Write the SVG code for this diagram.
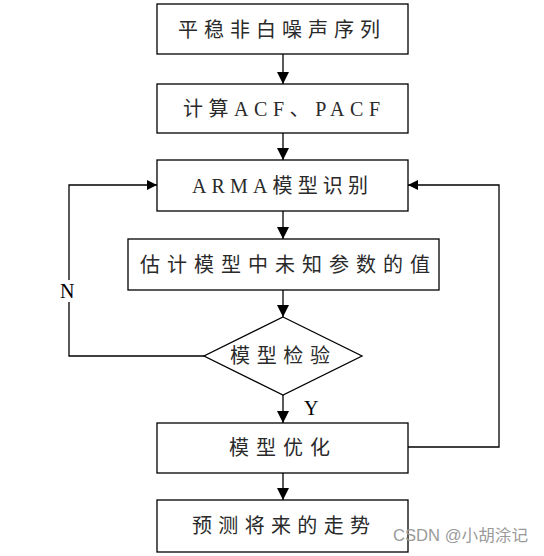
<svg xmlns="http://www.w3.org/2000/svg" width="544" height="556" viewBox="0 0 544 556">
<style>
.box{fill:#fff;stroke:#000;stroke-width:1.3}
.t{font-family:"Liberation Serif","Noto Sans CJK SC",serif;font-size:20px;fill:#2a2a2a;text-anchor:start;dominant-baseline:central}
.c{fill:none;stroke:#000;stroke-width:1.3}
.lbl{font-family:"Liberation Serif",serif;font-size:20px;fill:#000;dominant-baseline:central}
.wm{font-family:"Liberation Sans","Noto Sans CJK SC",sans-serif;font-size:16px;fill:#9a9a9a;dominant-baseline:central}
</style>
<defs>
<marker id="ah" markerWidth="12" markerHeight="12" viewBox="0 0 12 12" refX="12" refY="6" orient="auto" markerUnits="userSpaceOnUse">
<path d="M0,0 L12,6 L0,12 Z" fill="#000"/>
</marker>
<marker id="ahs" markerWidth="10" markerHeight="10" viewBox="0 0 10 10" refX="10" refY="5" orient="auto" markerUnits="userSpaceOnUse">
<path d="M0,0 L10,5 L0,10 Z" fill="#000"/>
</marker>
</defs>
<rect width="544" height="556" fill="#fff"/>
<g id="connectors">
<line class="c" x1="283" y1="54" x2="283" y2="84" marker-end="url(#ah)"/>
<line class="c" x1="283" y1="133" x2="283" y2="160" marker-end="url(#ah)"/>
<line class="c" x1="283" y1="211" x2="283" y2="239" marker-end="url(#ah)"/>
<line class="c" x1="283" y1="290" x2="283" y2="317" marker-end="url(#ah)"/>
<line class="c" x1="283" y1="395" x2="283" y2="423" marker-end="url(#ah)"/>
<line class="c" x1="283" y1="473" x2="283" y2="500" marker-end="url(#ah)"/>
<polyline class="c" points="204,356 69,356 69,302"/>
<polyline class="c" points="69,280 69,185 157,185" marker-end="url(#ahs)"/>
<polyline class="c" points="408,447 499,447 499,185 408,185" marker-end="url(#ahs)"/>
<text class="lbl" x="60" y="291">N</text>
<text class="lbl" x="304" y="408">Y</text>
</g>
<g id="n1">
<rect class="box" x="157" y="4" width="251" height="50"/>
<text class="t" x="178" y="30" textLength="202" lengthAdjust="spacing">平稳非白噪声序列</text>
</g>
<g id="n2">
<rect class="box" x="157" y="84" width="251" height="49"/>
<text class="t" x="183" y="109" textLength="197" lengthAdjust="spacing">计算ACF、PACF</text>
</g>
<g id="n3">
<rect class="box" x="157" y="160" width="251" height="51"/>
<text class="t" x="192" y="186" textLength="176" lengthAdjust="spacing">ARMA模型识别</text>
</g>
<g id="n4">
<rect class="box" x="128" y="239" width="311" height="51"/>
<text class="t" x="140" y="265" textLength="290" lengthAdjust="spacing">估计模型中未知参数的值</text>
</g>
<g id="n5">
<polygon class="box" points="283,317 362,356 283,395 204,356"/>
<text class="t" x="230" y="356" textLength="100" lengthAdjust="spacing">模型检验</text>
</g>
<g id="n6">
<rect class="box" x="157" y="423" width="251" height="50"/>
<text class="t" x="229" y="448" textLength="101" lengthAdjust="spacing">模型优化</text>
</g>
<g id="n7">
<rect class="box" x="157" y="500" width="251" height="52"/>
<text class="t" x="192" y="526" textLength="178" lengthAdjust="spacing">预测将来的走势</text>
</g>
<text class="wm" x="393" y="535" textLength="135" lengthAdjust="spacingAndGlyphs">CSDN @小胡涂记</text>
</svg>
